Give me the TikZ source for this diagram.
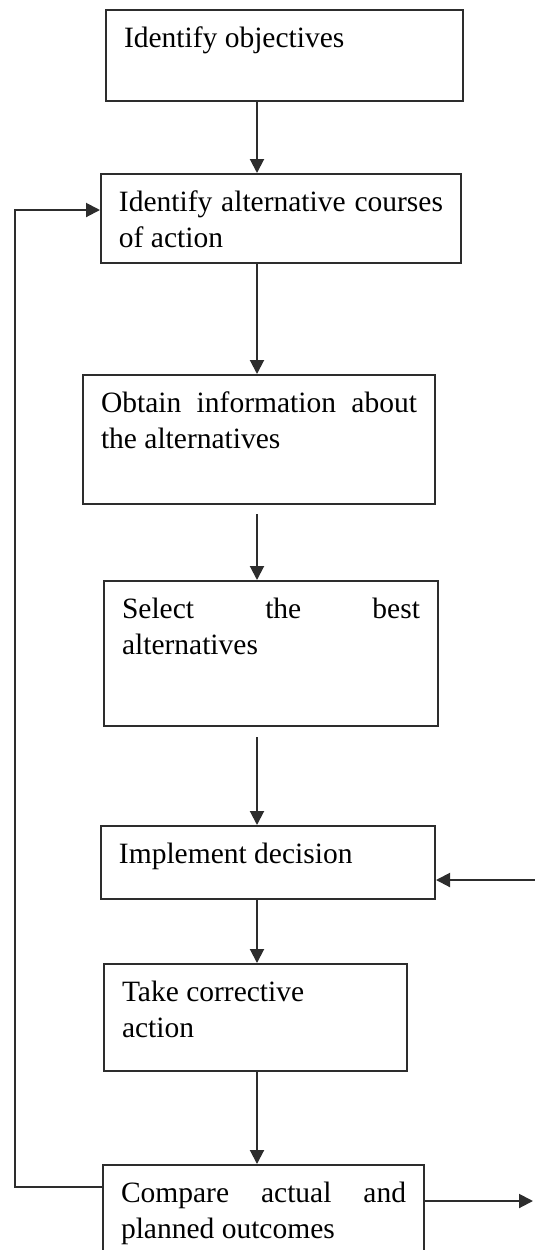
\documentclass[tikz,border=0pt]{standalone}
\usepackage{fontspec}
\setmainfont{Liberation Serif}
\usetikzlibrary{arrows.meta,positioning}
\definecolor{inkgray}{RGB}{45,45,45}

\begin{document}
\begin{tikzpicture}[x=0.5pt,y=-0.5pt,
  stage/.style={rectangle,draw=inkgray,line width=1pt,anchor=north west,align=justify,inner xsep=9pt,inner ysep=7.5pt,text height=11pt,font=\fontsize{14.75}{18}\selectfont},
  flow/.style={draw=inkgray,line width=1pt,-{Triangle[length=7pt,width=7pt]}}
]
\useasboundingbox (0,0) rectangle (535,1250);
\coordinate (spine) at (257,0);
\node[stage,text width=160.5pt,text depth=19.5pt] (obj) at (105,9) {Identify objectives};
\node[stage,text width=162pt,text depth=18.5pt] (alt) at (100,173) {Identify alternative courses\linebreak of action};
\node[stage,text width=158pt,text depth=38.5pt] (info) at (82,374) {Obtain information about\linebreak the alternatives};
\node[stage,text width=149pt,text depth=46.5pt] (sel) at (103,580) {Select the best\linebreak alternatives};
\node[stage,text width=149pt,text depth=10.5pt] (impl) at (100,825) {Implement decision};
\node[stage,text width=133.5pt,text depth=27.5pt] (corr) at (103,963) {Take corrective\newline action};
\node[stage,text width=142.5pt,text depth=44pt] (comp) at (102,1164) {Compare actual and\linebreak planned outcomes};
% main sequence
\draw[flow] (obj.south -| spine) -- (alt.north -| spine);
\draw[flow] (alt.south -| spine) -- (info.north -| spine);
\draw[flow,shorten <=4.5pt] (info.south -| spine) -- (sel.north -| spine);
\draw[flow,shorten <=5pt] (sel.south -| spine) -- (impl.north -| spine);
\draw[flow] (impl.south -| spine) -- (corr.north -| spine);
\draw[flow] (corr.south -| spine) -- (comp.north -| spine);
% feedback loops
\coordinate (fb) at (15,210);
\draw[flow] ([yshift=-11.5pt]comp.north west) -| (fb) -- (alt.west |- fb);
\coordinate (exit) at (533,1201);
\draw[flow] (comp.east |- exit) -- (exit);
\coordinate (return) at (535,880);
\draw[flow] (return) -- (impl.east |- return);
\end{tikzpicture}
\end{document}
